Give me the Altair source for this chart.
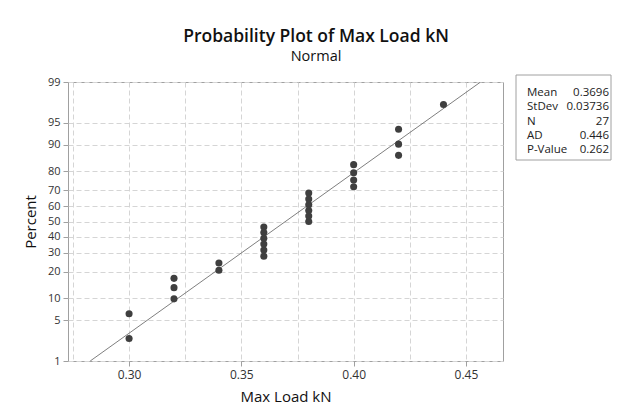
import altair as alt
import pandas as pd
from statistics import NormalDist

# ---- data ----
load_values = [0.30, 0.30,
               0.32, 0.32, 0.32,
               0.34, 0.34,
               0.36, 0.36, 0.36, 0.36, 0.36, 0.36,
               0.38, 0.38, 0.38, 0.38, 0.38, 0.38,
               0.40, 0.40, 0.40, 0.40,
               0.42, 0.42, 0.42,
               0.44]
stat_labels = ["Mean", "StDev", "N", "AD", "P-Value"]
stat_values = ["0.3696", "0.03736", "27", "0.446", "0.262"]
fit_mean = 0.3696
fit_sd = 0.03736
pct_ticks = [1, 5, 10, 20, 30, 40, 50, 60, 70, 80, 90, 95, 99]
x_grid = [0.275, 0.30, 0.325, 0.35, 0.375, 0.40, 0.425, 0.45]
x_domain = [0.2728, 0.4665]
title_text = "Probability Plot of Max Load kN"
subtitle_text = "Normal"

nd = NormalDist()
n = len(load_values)
vals = sorted(load_values)
pts = pd.DataFrame({
    "load": vals,
    "z": [nd.inv_cdf((i - 0.3) / (n + 0.4)) for i in range(1, n + 1)],
})
z_lo, z_hi = nd.inv_cdf(pct_ticks[0] / 100), nd.inv_cdf(pct_ticks[-1] / 100)
fit = pd.DataFrame({"z": [z_lo, z_hi],
                    "load": [fit_mean + fit_sd * z_lo, fit_mean + fit_sd * z_hi]})
y_vals = [nd.inv_cdf(p / 100) for p in pct_ticks]

FONT = "Open Sans"
FRAME = "#a0a0a0"
is_major = "abs(datum.value*20 - round(datum.value*20)) < 1e-6"

x_enc = alt.X("load:Q", scale=alt.Scale(domain=x_domain, nice=False, zero=False),
              axis=alt.Axis(values=x_grid, tickCount=30, title="Max Load kN",
                            labelExpr=is_major + " ? format(datum.value, '.2f') : ''",
                            tickColor={"condition": {"test": is_major, "value": FRAME}, "value": "transparent"},
                            labelOverlap=False, labelFontSize=12, titlePadding=9))
y_enc = alt.Y("z:Q", scale=alt.Scale(domain=[z_lo, z_hi], nice=False, zero=False),
              axis=alt.Axis(values=y_vals, tickCount=30, title="Percent",
                            labelExpr="format(round(cumulativeNormal(datum.value)*100), 'd')",
                            labelOverlap=False, labelBound=False, labelFlush=False,
                            labelFontSize=11, titlePadding=9))

line = alt.Chart(fit).mark_line(color="#707070", strokeWidth=0.9, clip=True).encode(x=x_enc, y=y_enc)
points = alt.Chart(pts).mark_circle(color="#3f3f3f", size=50, opacity=1).encode(x="load:Q", y="z:Q")

one = pd.DataFrame({"k": [0]})
box = alt.Chart(one).mark_rect(fill="white", stroke=FRAME, strokeWidth=1).encode(
    x=alt.value(448), x2=alt.value(543), y=alt.value(-7), y2=alt.value(78))
border = alt.Chart(one).mark_rect(fill="transparent", stroke="#dcdcdc", strokeWidth=1).encode(
    x=alt.value(-62), x2=alt.value(560), y=alt.value(-75), y2=alt.value(400))

stat_layers = []
for i, (lab, val) in enumerate(zip(stat_labels, stat_values)):
    yb = 14 + 14.25 * i
    stat_layers.append(alt.Chart(pd.DataFrame({"t": [lab]})).mark_text(
        align="left", baseline="alphabetic", font=FONT, fontSize=11.5, color="#222222"
    ).encode(x=alt.value(459), y=alt.value(yb), text="t:N"))
    stat_layers.append(alt.Chart(pd.DataFrame({"t": [val]})).mark_text(
        align="right", baseline="alphabetic", font=FONT, fontSize=11.5, color="#222222"
    ).encode(x=alt.value(541), y=alt.value(yb), text="t:N"))

title = alt.Chart(pd.DataFrame({"t": [title_text]})).mark_text(
    align="center", baseline="alphabetic", font=FONT, fontSize=17.5, fontWeight=600, color="#111111"
).encode(x=alt.value(248), y=alt.value(-40), text="t:N")
subtitle = alt.Chart(pd.DataFrame({"t": [subtitle_text]})).mark_text(
    align="center", baseline="alphabetic", font=FONT, fontSize=14.5, color="#111111"
).encode(x=alt.value(248), y=alt.value(-21), text="t:N")

chart = alt.layer(border, line, points, box, *stat_layers, title, subtitle).properties(
    width=435, height=279,
    autosize=alt.AutoSizeParams(type="none"),
    padding={"left": 60, "top": 74, "right": 111, "bottom": 46},
).configure_view(stroke=FRAME, strokeWidth=1).configure_axis(
    gridColor="#d5d5d5", gridDash=[5, 3], gridWidth=1,
    domain=False, tickColor=FRAME, tickSize=5,
    labelFont=FONT, labelColor="#333333", labelPadding=3,
    titleFont=FONT, titleFontSize=15, titleFontWeight="normal", titleColor="#111111",
)

chart.save("out.html", embed_options={"renderer": "svg", "actions": False})
